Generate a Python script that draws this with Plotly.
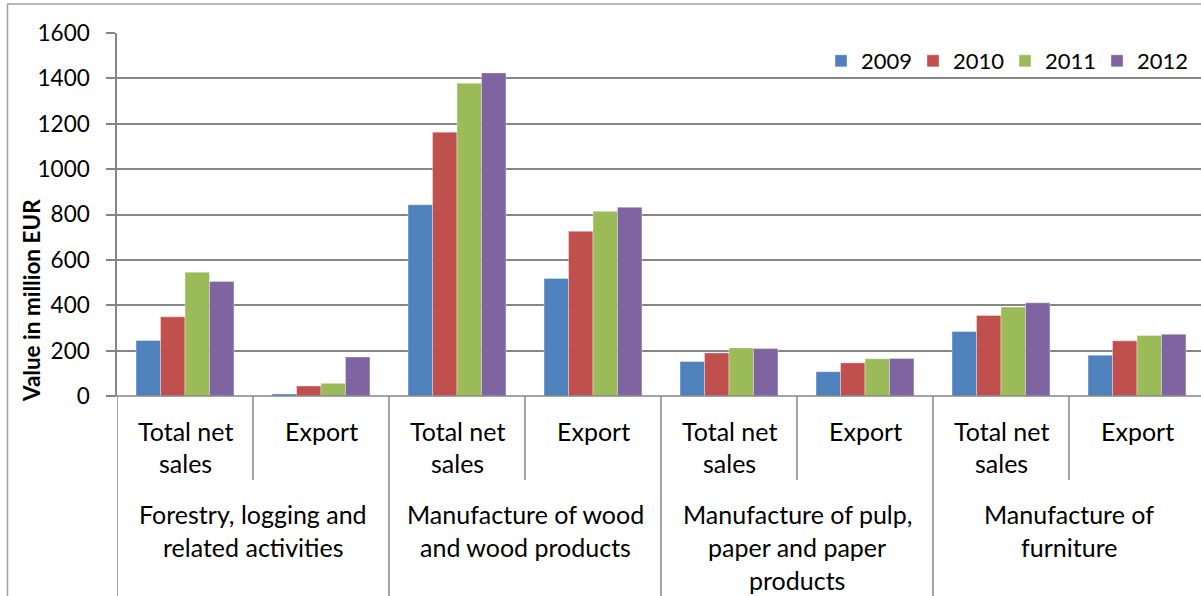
import plotly.graph_objects as go

groups = ["Forestry, logging and<br>related activities",
          "Manufacture of wood<br>and wood products",
          "Manufacture of pulp,<br>paper and paper<br>products",
          "Manufacture of<br>furniture"]
subcats = ["Total net<br>sales", "Export"]
years = ["2009", "2010", "2011", "2012"]

v2009 = [245, 9, 843, 518, 152, 107, 284, 180]
v2010 = [349, 44, 1163, 726, 190, 146, 355, 243]
v2011 = [546, 56, 1379, 814, 212, 164, 392, 267]
v2012 = [505, 172, 1424, 832, 209, 165, 411, 272]
series = [v2009, v2010, v2011, v2012]
colors = ["#4F81BD", "#C0504D", "#9BBB59", "#8064A2"]

yticks = [0, 200, 400, 600, 800, 1000, 1200, 1400, 1600]

W, H = 1201, 596
L, R, T, B = 117, 0, 33, 200
pw, ph = W - L - R, H - T - B

def px_x(p):
    return (p - L) / pw

def px_y(p):
    return (H - B - p) / ph

FONT = "Lato, 'Open Sans', sans-serif"
GRID = "#868686"
LBL = 25

n = len(v2009)
xs = list(range(n))

fig = go.Figure()
for name, vals, c in zip(years, series, colors):
    fig.add_trace(go.Bar(x=xs, y=vals, name=name,
                         marker=dict(color=c, line=dict(width=0.6, color="rgba(255,255,255,0.6)"))))

fig.update_layout(
    width=W, height=H,
    margin=dict(l=L, r=R, t=T, b=B, autoexpand=False),
    paper_bgcolor="white", plot_bgcolor="white",
    barmode="group", bargap=0.28, bargroupgap=0,
    font=dict(family=FONT, size=22, color="black"),
    legend=dict(orientation="h", x=px_x(821), y=px_y(61), xanchor="left", yanchor="middle",
                font=dict(size=22), itemwidth=30, entrywidth=47, entrywidthmode="pixels",
                bgcolor="rgba(0,0,0,0)", traceorder="normal"),
    showlegend=True,
)
fig.update_xaxes(range=[-0.5, -0.5 + pw / 136.0], showticklabels=False, showgrid=False,
                 zeroline=False, showline=False, ticks="", fixedrange=True)
fig.update_yaxes(range=[0, 1600], tickvals=yticks, showgrid=True, gridcolor=GRID, gridwidth=1.5,
                 zeroline=False, showline=True, linecolor=GRID, linewidth=1.5,
                 ticks="outside", ticklen=9, tickcolor=GRID, tickwidth=1.5,
                 ticklabelstandoff=12, tickfont=dict(size=22.5))

shapes = []
shapes.append(dict(type="line", xref="paper", yref="paper", x0=px_x(108), x1=1.0, y0=0, y1=0,
                   line=dict(color=GRID, width=1.5)))
for i in range(n + 1):
    xb = i - 0.5
    y1 = px_y(H + 5) if i % 2 == 0 else px_y(480)
    shapes.append(dict(type="line", xref="x", yref="paper", x0=xb, x1=xb, y0=0, y1=y1,
                       line=dict(color=GRID, width=1.5)))
shapes.append(dict(type="rect", xref="paper", yref="paper", x0=px_x(7.5), x1=px_x(W + 10),
                   y0=px_y(H + 10), y1=px_y(4), line=dict(color="#A0A0A0", width=1.5),
                   fillcolor="rgba(0,0,0,0)", layer="below"))
fig.update_layout(shapes=shapes)

ann = []
for i in range(n):
    for k, ln in enumerate(subcats[i % 2].split("<br>")):
        ann.append(dict(x=i, xref="x", y=px_y(431 + 32 * k), yref="paper", text=ln,
                        showarrow=False, xanchor="center", yanchor="middle",
                        font=dict(size=LBL, family=FONT)))
for g, gname in enumerate(groups):
    for k, ln in enumerate(gname.split("<br>")):
        ann.append(dict(x=2 * g + 0.5, xref="x", y=px_y(514 + 33 * k), yref="paper", text=ln,
                        showarrow=False, xanchor="center", yanchor="middle",
                        font=dict(size=LBL, family=FONT)))
ann.append(dict(x=px_x(31), xref="paper", y=px_y(301), yref="paper", text="<b>Value in million EUR</b>",
                textangle=-90, showarrow=False, xanchor="center", yanchor="middle",
                font=dict(size=22.5, family=FONT)))
fig.update_layout(annotations=ann)

fig.write_html("out.html", config={"displayModeBar": False},
               post_script="document.body.style.margin='0';document.body.style.overflow='hidden';")
